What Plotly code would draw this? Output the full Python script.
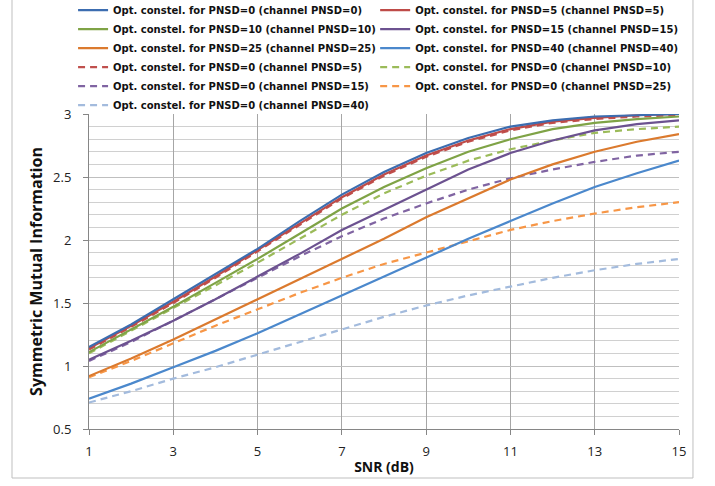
import plotly.graph_objects as go

snr = list(range(1, 16))

opt0_ch0 = [1.15, 1.33, 1.53, 1.73, 1.93, 2.15, 2.36, 2.54, 2.69, 2.81, 2.90, 2.95, 2.98, 2.99, 3.00]
opt5_ch5 = [1.14, 1.32, 1.51, 1.71, 1.92, 2.13, 2.34, 2.52, 2.67, 2.79, 2.88, 2.94, 2.97, 2.99, 3.00]
opt10_ch10 = [1.11, 1.29, 1.47, 1.66, 1.85, 2.05, 2.25, 2.42, 2.57, 2.70, 2.80, 2.88, 2.93, 2.96, 2.98]
opt15_ch15 = [1.05, 1.20, 1.36, 1.53, 1.71, 1.89, 2.08, 2.24, 2.40, 2.56, 2.69, 2.79, 2.87, 2.92, 2.95]
opt25_ch25 = [0.92, 1.06, 1.21, 1.37, 1.53, 1.69, 1.85, 2.01, 2.18, 2.33, 2.48, 2.60, 2.70, 2.78, 2.84]
opt40_ch40 = [0.74, 0.86, 0.99, 1.12, 1.26, 1.41, 1.56, 1.71, 1.86, 2.01, 2.15, 2.29, 2.42, 2.53, 2.63]
opt0_ch5 = [1.13, 1.31, 1.50, 1.70, 1.91, 2.12, 2.33, 2.51, 2.66, 2.78, 2.87, 2.93, 2.96, 2.98, 2.99]
opt0_ch10 = [1.10, 1.28, 1.46, 1.64, 1.82, 2.01, 2.20, 2.37, 2.51, 2.63, 2.72, 2.79, 2.85, 2.88, 2.90]
opt0_ch15 = [1.04, 1.19, 1.36, 1.53, 1.70, 1.87, 2.03, 2.17, 2.29, 2.40, 2.49, 2.56, 2.62, 2.67, 2.70]
opt0_ch25 = [0.91, 1.04, 1.18, 1.32, 1.45, 1.58, 1.70, 1.81, 1.90, 1.99, 2.08, 2.15, 2.21, 2.26, 2.30]
opt0_ch40 = [0.71, 0.80, 0.90, 0.99, 1.09, 1.19, 1.29, 1.39, 1.48, 1.56, 1.63, 1.70, 1.76, 1.81, 1.85]

names = [
    "Opt. constel. for PNSD=0 (channel PNSD=0)",
    "Opt. constel. for PNSD=5 (channel PNSD=5)",
    "Opt. constel. for PNSD=10 (channel PNSD=10)",
    "Opt. constel. for PNSD=15 (channel PNSD=15)",
    "Opt. constel. for PNSD=25 (channel PNSD=25)",
    "Opt. constel. for PNSD=40 (channel PNSD=40)",
    "Opt. constel. for PNSD=0 (channel PNSD=5)",
    "Opt. constel. for PNSD=0 (channel PNSD=10)",
    "Opt. constel. for PNSD=0 (channel PNSD=15)",
    "Opt. constel. for PNSD=0 (channel PNSD=25)",
    "Opt. constel. for PNSD=0 (channel PNSD=40)",
]
series = [opt0_ch0, opt5_ch5, opt10_ch10, opt15_ch15, opt25_ch25, opt40_ch40,
          opt0_ch5, opt0_ch10, opt0_ch15, opt0_ch25, opt0_ch40]
colors = ["#3C6DB0", "#BE4B48", "#7FA346", "#6C5290", "#DB7A2E", "#4B88CC",
          "#C0504D", "#9BBB59", "#8064A2", "#F79646", "#A3BBDD"]
dashes = ["solid"] * 6 + ["7px,5px"] * 5
# two legend columns, filled row by row
legend_ids = ["legend", "legend2"] * 6

fig = go.Figure()
for i in range(len(names)):
    fig.add_trace(go.Scatter(x=snr, y=series[i], name=names[i], mode="lines",
                             legend=legend_ids[i], legendrank=i,
                             line=dict(color=colors[i], width=2.2, dash=dashes[i])))

# draw order: make the top curves sit on top
fig.data = tuple(list(fig.data)[::-1])

font_family = "Open Sans, Liberation Sans, sans-serif"
legend_font = dict(size=10, family="DejaVu Sans, sans-serif", color="#111111", weight="bold")

fig.update_layout(
    width=715, height=486,
    margin=dict(l=89, r=36, t=114, b=57, autoexpand=False),
    paper_bgcolor="white", plot_bgcolor="white",
    font=dict(family=font_family, color="#222222"),
    legend=dict(
        orientation="v", x=-0.027, y=1.3755, xanchor="left", yanchor="top",
        font=legend_font, itemwidth=30, tracegroupgap=0, bgcolor="rgba(0,0,0,0)",
    ),
    legend2=dict(
        orientation="v", x=0.485, y=1.3755, xanchor="left", yanchor="top",
        font=legend_font, itemwidth=30, tracegroupgap=0, bgcolor="rgba(0,0,0,0)",
    ),
    xaxis=dict(
        range=[1, 15], tick0=1, dtick=2, showgrid=True, gridcolor="#A6A6A6",
        gridwidth=1, showline=True, linecolor="#868686", linewidth=1,
        ticks="outside", ticklen=5, tickcolor="#868686", zeroline=False,
        ticklabelstandoff=5,
        tickfont=dict(size=13, color="#222222"),
        title=dict(text="<b>SNR (dB)</b>", font=dict(size=14, color="#111111"), standoff=3),
    ),
    yaxis=dict(
        range=[0.5, 3], tick0=0.5, dtick=0.5, showgrid=True, gridcolor="#BFBFBF",
        gridwidth=1, showline=True, linecolor="#868686", linewidth=1,
        ticks="outside", ticklen=5, tickcolor="#868686", zeroline=False,
        ticklabelstandoff=9,
        tickfont=dict(size=13, color="#222222"),
        minor=dict(dtick=0.1, showgrid=True, gridcolor="#D0D0D0", gridwidth=1),
        title=dict(text="<b>Symmetric Mutual Information</b>", font=dict(size=16, color="#111111"), standoff=6),
    ),
    showlegend=True,
)

# outer chart border
fig.add_shape(type="rect", xref="paper", yref="paper",
              x0=-0.1305, x1=1.0237, y0=-0.1556, y1=1.37,
              line=dict(color="#BFBFBF", width=1), layer="below")

fig.write_html("out.html", config={"displayModeBar": False},
               post_script="document.body.style.margin='0';")
